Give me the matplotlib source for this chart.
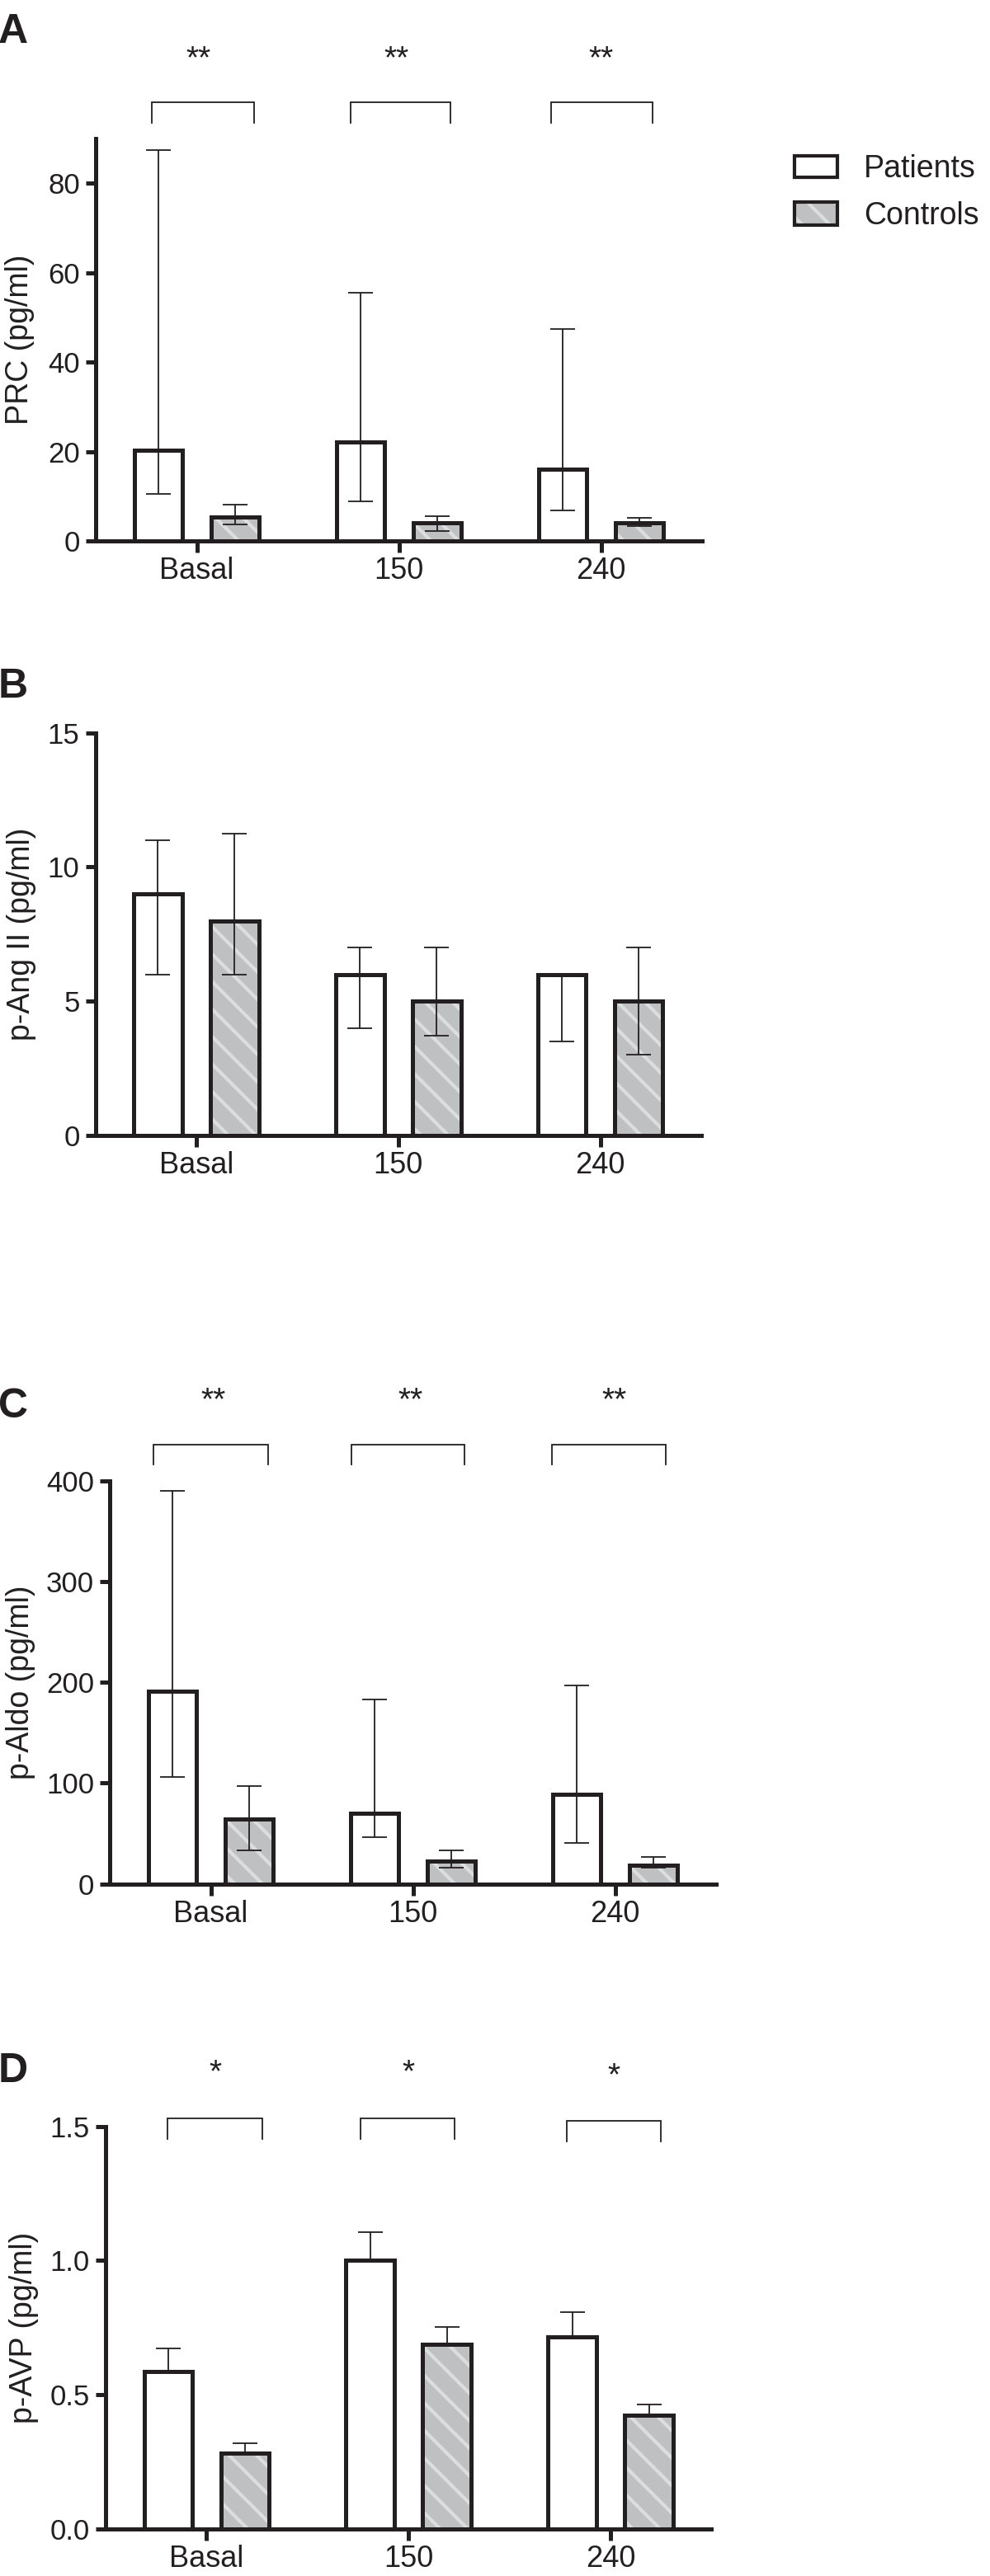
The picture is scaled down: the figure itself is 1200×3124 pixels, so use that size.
import matplotlib
matplotlib.use('Agg')
import matplotlib.pyplot as plt
import matplotlib.transforms as mtransforms
from matplotlib.patches import Rectangle
import numpy as np

plt.rcParams['font.family'] = ['Liberation Sans', 'DejaVu Sans']
plt.rcParams['hatch.linewidth'] = 3.0

W, H = 1200, 3124
INK = '#231f20'
GRAY = '#bfc0c2'
STRIPE = '#dcdddf'

groups = ['Basal', '150', '240']
series = ['Patients', 'Controls']

# Panel A: PRC (median, lower, upper)
prc_pat = [20.2, 22.1, 16.1]
prc_pat_lo = [10.6, 8.8, 6.8]
prc_pat_hi = [87.4, 55.5, 47.4]
prc_ctl = [5.4, 4.1, 4.0]
prc_ctl_lo = [3.6, 2.3, 3.3]
prc_ctl_hi = [8.1, 5.6, 5.2]
prc_sig = ['**', '**', '**']
prc_ticks = [0, 20, 40, 60, 80]

# Panel B: p-Ang II
ang_pat = [9.0, 6.0, 6.0]
ang_pat_lo = [6.0, 4.0, 3.5]
ang_pat_hi = [11.0, 7.0, 6.0]
ang_ctl = [8.0, 5.0, 5.0]
ang_ctl_lo = [6.0, 3.73, 3.0]
ang_ctl_hi = [11.25, 7.0, 7.0]
ang_ticks = [0, 5, 10, 15]

# Panel C: p-Aldo
aldo_pat = [191, 70, 88.6]
aldo_pat_lo = [106, 46.5, 40.3]
aldo_pat_hi = [390, 183, 196.5]
aldo_ctl = [64, 22.7, 18.3]
aldo_ctl_lo = [33, 15.7, 16.0]
aldo_ctl_hi = [97, 33, 27]
aldo_sig = ['**', '**', '**']
aldo_ticks = [0, 100, 200, 300, 400]

# Panel D: p-AVP (mean + SEM)
avp_pat = [0.585, 1.0, 0.715]
avp_pat_hi = [0.673, 1.107, 0.806]
avp_ctl = [0.283, 0.689, 0.422]
avp_ctl_hi = [0.318, 0.751, 0.462]
avp_sig = ['*', '*', '*']
avp_ticks = [0.0, 0.5, 1.0, 1.5]

fig = plt.figure(figsize=(W / 100, H / 100), dpi=100)

OFF = 0.19
BW = 0.24
LW = 3.6
ELW = 1.3


def px_axes(left, right, top, bottom):
    return fig.add_axes([left / W, 1 - bottom / H, (right - left) / W, (bottom - top) / H])


def draw_panel(ax, pat, pat_lo, pat_hi, ctl, ctl_lo, ctl_hi, ylim, yticks, fmt):
    x = np.arange(len(groups))
    pat = np.array(pat); ctl = np.array(ctl)
    b1 = ax.bar(x - OFF, pat, BW, facecolor='white', edgecolor=INK, linewidth=LW, zorder=2)
    b2 = ax.bar(x + OFF, ctl, BW, facecolor=GRAY, edgecolor=STRIPE, hatch='\\', linewidth=0, zorder=2)
    b3 = ax.bar(x + OFF, ctl, BW, facecolor='none', edgecolor=INK, linewidth=LW, zorder=3)
    for p in list(b1) + list(b3):
        p.set_joinstyle('miter')
    pe = [pat - np.array(pat_lo), np.array(pat_hi) - pat]
    ce = [ctl - np.array(ctl_lo), np.array(ctl_hi) - ctl]
    for xx, yy, ee in [(x - OFF, pat, pe), (x + OFF, ctl, ce)]:
        ax.errorbar(xx, yy, yerr=ee, fmt='none', ecolor=INK, elinewidth=ELW,
                    capsize=11, capthick=ELW, zorder=4)
    ax.set_xlim(-0.5, 2.5)
    ax.set_ylim(*ylim)
    ax.set_yticks(yticks)
    ax.set_yticklabels([fmt.format(t) for t in yticks])
    ax.set_xticks(x)
    ax.set_xticklabels(groups)
    for s in ['top', 'right']:
        ax.spines[s].set_visible(False)
    for s in ['left', 'bottom']:
        ax.spines[s].set_linewidth(LW)
        ax.spines[s].set_color(INK)
    ax.tick_params(axis='y', length=8.6, width=LW, labelsize=25, pad=5, colors=INK)
    ax.tick_params(axis='x', length=10, width=LW, labelsize=26, pad=4, colors=INK)
    ax.patch.set_visible(False)


def brackets(ax, sig, spans, ytop, yleg, ystar, xstar):
    tr = mtransforms.blended_transform_factory(ax.transData, ax.transAxes)
    for i, s in enumerate(sig):
        x0, x1 = i + spans[i][0], i + spans[i][1]
        ax.plot([x0, x0, x1, x1], [yleg[i], ytop[i], ytop[i], yleg[i]], color=INK,
                lw=1.3, transform=tr, clip_on=False, solid_joinstyle='miter')
        ax.text(i + xstar[i], ystar[i], s, transform=tr, ha='center', va='baseline',
                fontsize=28, color=INK)


def ylabel(text, x, yc):
    fig.text(x / W, 1 - yc / H, text, rotation=90, ha='center', va='center',
             fontsize=27, color=INK)


def letter(t, y):
    fig.text(-2 / W, 1 - y / H, t, fontsize=36, fontweight='bold', va='baseline',
             ha='left', color=INK)


# Panel A
axA = px_axes(116, 851, 168, 656)
draw_panel(axA, prc_pat, prc_pat_lo, prc_pat_hi, prc_ctl, prc_ctl_lo, prc_ctl_hi,
           (0, 90), prc_ticks, '{:.0f}')
brackets(axA, prc_sig, [(-0.223, 0.283), (-0.24, 0.257), (-0.245, 0.257)],
         [1.090] * 3, [1.039] * 3, [1.175] * 3, [0.01, -0.01, 0.0])
ylabel('PRC (pg/ml)', 24, 412)
letter('A', 52)

# Panel B
axB = px_axes(115.5, 850, 888.6, 1377)
draw_panel(axB, ang_pat, ang_pat_lo, ang_pat_hi, ang_ctl, ang_ctl_lo, ang_ctl_hi,
           (0, 15), ang_ticks, '{:.0f}')
ylabel('p-Ang II (pg/ml)', 26, 1133)
letter('B', 846)

# Panel C
axC = px_axes(133, 868, 1795.7, 2284.6)
draw_panel(axC, aldo_pat, aldo_pat_lo, aldo_pat_hi, aldo_ctl, aldo_ctl_lo, aldo_ctl_hi,
           (0, 400), aldo_ticks, '{:.0f}')
brackets(axC, aldo_sig, [(-0.284, 0.283), (-0.306, 0.257), (-0.314, 0.253)],
         [1.090] * 3, [1.040] * 3, [1.176] * 3, [0.013, -0.01, -0.005])
ylabel('p-Aldo (pg/ml)', 25, 2040)
letter('C', 1719)

# Panel D
axD = px_axes(128, 862.5, 2578.7, 3066.7)
draw_panel(axD, avp_pat, avp_pat, avp_pat_hi, avp_ctl, avp_ctl, avp_ctl_hi,
           (0, 1.5), avp_ticks, '{:.1f}')
brackets(axD, avp_sig, [(-0.193, 0.274), (-0.237, 0.229), (-0.216, 0.249)],
         [1.019, 1.019, 1.013], [0.969, 0.969, 0.962], [1.112, 1.112, 1.103],
         [0.043, 0.0, 0.017])
ylabel('p-AVP (pg/ml)', 29, 2823)
letter('D', 2525)

# Legend (manual)
fig.add_artist(Rectangle((963 / W, 1 - 215 / H), 52 / W, 26 / H, transform=fig.transFigure,
                         facecolor='white', edgecolor=INK, lw=3, joinstyle='miter'))
fig.add_artist(Rectangle((963 / W, 1 - 273 / H), 52 / W, 28 / H, transform=fig.transFigure,
                         facecolor=GRAY, edgecolor=STRIPE, hatch='\\', lw=0))
fig.add_artist(Rectangle((963 / W, 1 - 273 / H), 52 / W, 28 / H, transform=fig.transFigure,
                         facecolor='none', edgecolor=INK, lw=3, joinstyle='miter'))
fig.text(1047 / W, 1 - 215 / H, series[0], fontsize=27, va='baseline', ha='left', color=INK)
fig.text(1047 / W, 1 - 271.5 / H, series[1], fontsize=27, va='baseline', ha='left', color=INK)

fig.savefig('out.png', dpi=100, facecolor='white')
